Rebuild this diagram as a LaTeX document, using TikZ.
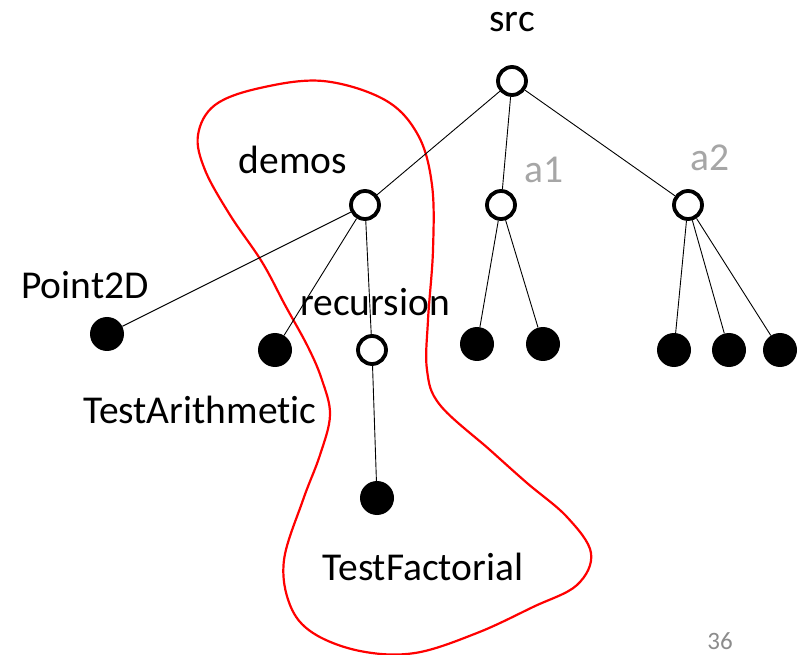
\documentclass[tikz,border=0pt]{standalone}
\usepackage{fontspec}
\setmainfont[Ligatures={NoCommon}]{Carlito}
\begin{document}
\begin{tikzpicture}[x=1pt,y=-1pt,
  opennode/.style={circle,draw=black,line width=3.8pt,fill=white,minimum size=28pt,inner sep=0pt},
  leafnode/.style={circle,fill=black,minimum size=34pt,inner sep=0pt},
  edge/.style={draw=black,line width=0.9pt},
  lbl/.style={font=\fontsize{39.5}{46}\selectfont,inner sep=0pt,text=black},
  graylbl/.style={font=\fontsize{39.5}{46}\selectfont,inner sep=0pt,text=lightgray},
  hull/.style={draw=red,line width=2.2pt}]
\definecolor{lightgray}{RGB}{166,166,166}
\definecolor{pagegray}{RGB}{140,140,140}
\useasboundingbox (0,0) rectangle (804,655);

% selection outline around demos/recursion
\draw[hull] plot[smooth cycle,tension=0.6] coordinates {
  (323,81) (385,100) (418,135) (432,185) (433,250) (428,320) (427,370)
  (440,405) (490,450) (527,483) (567,517) (591,553) (577,585) (533,607)
  (477,633) (415,653) (360,651) (313,633) (290,605) (284,560) (303,500)
  (320,455) (330,415) (322,380) (308,347) (285,305) (262,262) (230,215)
  (205,170) (198,135) (215,105) (260,88)};

% tree nodes
\node[opennode] (src) at (512,81) {};
\node[opennode] (demos) at (365,205) {};
\node[opennode] (a1) at (501,205) {};
\node[opennode] (a2) at (688,205) {};
\node[leafnode] (point) at (107,334) {};
\node[leafnode] (arith) at (275,350) {};
\node[opennode] (rec) at (372,350) {};
\node[leafnode] (fact) at (377,498) {};
\node[leafnode] (a1x) at (477,344) {};
\node[leafnode] (a1y) at (543,344) {};
\node[leafnode] (a2x) at (674,350) {};
\node[leafnode] (a2y) at (729,350) {};
\node[leafnode] (a2z) at (780,350) {};

% edges
\path[edge] (src) -- (demos);
\path[edge] (src) -- (a1);
\path[edge] (src) -- (a2);
\path[edge] (demos) -- (point);
\path[edge] (demos) -- (arith);
\path[edge] (demos) -- (rec);
\path[edge] (rec) -- (fact);
\path[edge] (a1) -- (a1x);
\path[edge] (a1) -- (a1y);
\path[edge] (a2) -- (a2x);
\path[edge] (a2) -- (a2y);
\path[edge] (a2) -- (a2z);

% labels
\node[lbl] (srcl) at (512,22) {src};
\node[lbl] (demosl) at (293,160) {demos};
\node[graylbl] (a1l) at (544,170) {a1};
\node[graylbl] (a2l) at (710,158) {a2};
\node[lbl] (pointl) at (85,285) {Point2D};
\node[lbl] (recl) at (375,302) {recursion};
\node[lbl] (arithl) at (200,410) {TestArithmetic};
\node[lbl] (factl) at (423,567) {TestFactorial};
\node[font=\fontsize{25}{30}\selectfont,text=pagegray,inner sep=0pt] (page) at (720,641) {36};
\end{tikzpicture}
\end{document}
